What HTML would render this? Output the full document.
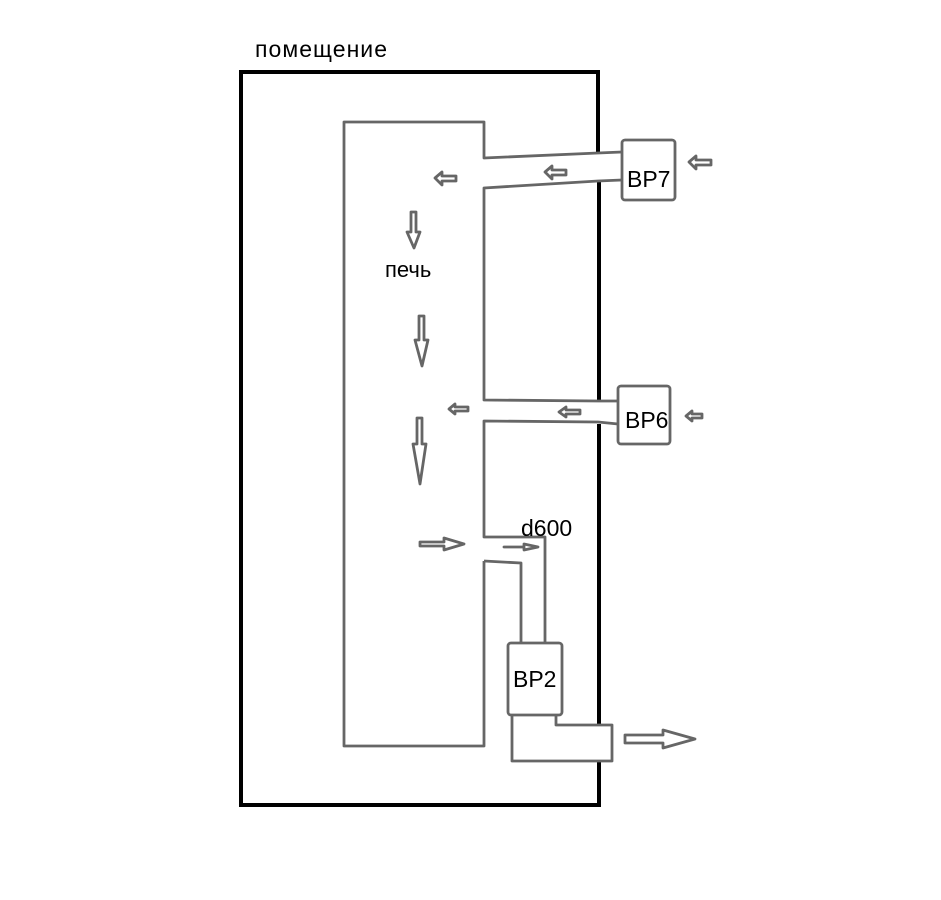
<!DOCTYPE html>
<html><head><meta charset="utf-8"><style>
html,body{margin:0;padding:0;background:#fff;}
svg{display:block;}
text{font-family:"Liberation Sans","DejaVu Sans",sans-serif;fill:#000;}
</style></head><body>
<svg width="941" height="900" viewBox="0 0 941 900" xmlns="http://www.w3.org/2000/svg">
<rect width="941" height="900" fill="#fff"/>
<g stroke="#000" stroke-width="4" fill="none">
<polyline points="598,154 598,72 241,72 241,805 599,805 599,762"/>
<line x1="599" y1="180" x2="599" y2="401"/>
<line x1="599" y1="424" x2="599" y2="726"/>
</g>
<text x="255" y="57" font-size="23" textLength="132">помещение</text>
<g stroke="#666" stroke-width="2.8" fill="none" stroke-linejoin="round">
<polyline points="484,561 521,563 521,643"/>
<polyline points="545,643 545,537 484,537 484,421 598,422 618,424"/>
<polyline points="618,401 598,401 484,400 484,188 598,181 622,180"/>
<polyline points="622,152 598,153 484,158 484,122 344,122 344,746 484,746 484,561"/>
<rect x="622" y="140" width="53" height="60" rx="3"/>
<rect x="618" y="386" width="52" height="58" rx="3"/>
<rect x="508" y="643" width="54" height="72" rx="3"/>
<polyline points="556,715 556,725 612,725 612,761 512,761 512,715"/>
<path d="M435,178 l7,-6 v4 h14 v5 h-14 v4 z"/>
<path d="M545,172 l7,-6 v4 h14 v5 h-14 v4 z"/>
<path d="M689,162 l7,-6 v4 h15 v5 h-15 v4 z"/>
<path d="M449,409 l6,-5 v3 h13 v4 h-13 v3 z"/>
<path d="M559,412 l7,-5 v3 h14 v4 h-14 v3 z"/>
<path d="M686,416 l6,-5 v3 h10 v4 h-10 v3 z"/>
<path d="M420,542 h24 v-4 l20,6 -20,6 v-4 h-24 z"/>
<path d="M504,547 h20 v-3 l14,3 -14,3 v-3 h-20 z"/>
<path d="M625,735 h38 v-5 l32,9 -32,9 v-5 h-38 z"/>
<path d="M411,212 v20 h-4 l7,16 6,-16 h-4 v-20 z"/>
<path d="M419,316 v24 h-4 l7,26 6,-26 h-4 v-24 z"/>
<path d="M417,418 v26 h-4 l7,40 6,-40 h-4 v-26 z"/>
</g>
<text x="385" y="277" font-size="22">печь</text>
<text x="627" y="187" font-size="23">BP7</text>
<text x="625" y="428" font-size="23">BP6</text>
<text x="513" y="687" font-size="23">BP2</text>
<text x="521" y="536" font-size="23">d600</text>
</svg>
</body></html>
